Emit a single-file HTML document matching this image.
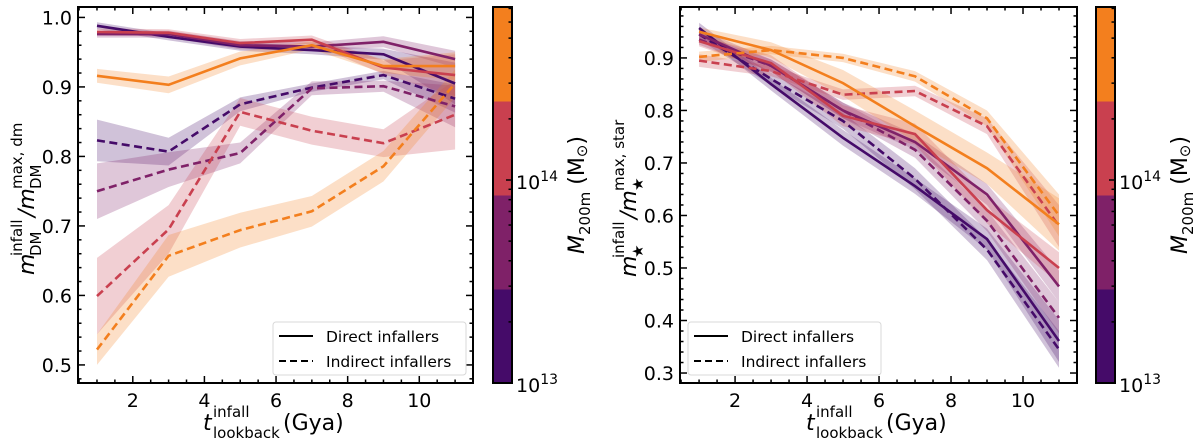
<!DOCTYPE html>
<html><head><meta charset="utf-8"><style>
html,body{margin:0;padding:0;background:#fff;}
svg{display:block;font-family:"DejaVu Sans","Liberation Sans",sans-serif;}
</style></head><body>
<svg id="fig" width="1200" height="448" viewBox="0 0 1200 448" xmlns="http://www.w3.org/2000/svg"></svg>
<script>
const xVals = [1,3,5,7,9,11];
const colors = ['#450b69','#7f2168','#c9404f','#f37f1e'];
const massNames = ['m1','m2','m3','m4'];
// Left panel: DM
const dmDirect = [
 [0.988,0.972,0.958,0.953,0.947,0.905],
 [0.976,0.976,0.960,0.958,0.965,0.940],
 [0.979,0.978,0.963,0.968,0.928,0.917],
 [0.916,0.903,0.941,0.960,0.930,0.930]];
const dmDirectErr = [
 [0.005,0.005,0.006,0.006,0.008,0.03],
 [0.005,0.005,0.006,0.006,0.008,0.012],
 [0.005,0.005,0.006,0.006,0.01,0.03],
 [0.01,0.012,0.01,0.006,0.01,0.02]];
const dmIndirect = [
 [0.823,0.807,0.875,0.899,0.917,0.883],
 [0.750,0.781,0.805,0.898,0.901,0.872],
 [0.599,0.695,0.864,0.837,0.819,0.860],
 [0.522,0.657,0.694,0.721,0.786,0.905]];
const dmIndirectErr = [
 [0.03,0.02,0.01,0.006,0.006,0.02],
 [0.04,0.025,0.015,0.01,0.008,0.03],
 [0.055,0.035,0.02,0.02,0.02,0.05],
 [0.022,0.03,0.025,0.022,0.022,0.02]];
// Right panel: stars
const stDirect = [
 [0.957,0.850,0.748,0.656,0.555,0.361],
 [0.945,0.885,0.800,0.740,0.640,0.465],
 [0.932,0.890,0.790,0.755,0.610,0.500],
 [0.950,0.915,0.852,0.770,0.690,0.583]];
const stDirectErr = [
 [0.01,0.012,0.015,0.015,0.02,0.04],
 [0.01,0.012,0.015,0.015,0.02,0.03],
 [0.01,0.015,0.02,0.02,0.025,0.03],
 [0.008,0.015,0.025,0.03,0.03,0.05]];
const stIndirect = [
 [0.945,0.860,0.780,0.670,0.535,0.345],
 [0.935,0.885,0.800,0.725,0.590,0.405],
 [0.895,0.875,0.830,0.837,0.770,0.580],
 [0.902,0.915,0.900,0.865,0.785,0.600]];
const stIndirectErr = [
 [0.01,0.012,0.015,0.02,0.02,0.035],
 [0.01,0.012,0.015,0.015,0.02,0.03],
 [0.012,0.01,0.01,0.01,0.015,0.04],
 [0.01,0.008,0.008,0.01,0.015,0.04]];
const xTicks = [2,4,6,8,10];
const dmYTicks = [0.5,0.6,0.7,0.8,0.9,1.0];
const stYTicks = [0.3,0.4,0.5,0.6,0.7,0.8,0.9];

const NS='http://www.w3.org/2000/svg';
const svg=document.getElementById('fig');
function el(tag,attrs,parent,text){const e=document.createElementNS(NS,tag);for(const k in attrs)e.setAttribute(k,attrs[k]);if(text!==undefined)e.textContent=text;(parent||svg).appendChild(e);return e;}

function panel(p){
  const g=el('g',{});
  
  
  const sx=v=>p.x0+(v-p.xmin)/(p.xmax-p.xmin)*(p.x1-p.x0);
  const sy=v=>p.y1-(v-p.ymin)/(p.ymax-p.ymin)*(p.y1-p.y0);
  const clipId='clip'+p.name;
  const cp=el('clipPath',{id:clipId},g);el('rect',{x:p.x0,y:p.y0,width:p.x1-p.x0,height:p.y1-p.y0},cp);
  const plot=el('g',{'clip-path':'url(#'+clipId+')'},g);
  function band(vals,err,col,nm){
    let d='';xVals.forEach((x,i)=>{d+=(i?'L':'M')+sx(x).toFixed(1)+','+sy(vals[i]+err[i]).toFixed(1);});
    for(let i=xVals.length-1;i>=0;i--)d+='L'+sx(xVals[i]).toFixed(1)+','+sy(vals[i]-err[i]).toFixed(1);
    const b=el('path',{d:d+'Z',fill:col,'fill-opacity':0.25,stroke:'none'},plot);
    
    
  }
  function line(vals,col,dash,nm){
    const pts=xVals.map((x,i)=>sx(x).toFixed(1)+','+sy(vals[i]).toFixed(1)).join(' ');
    const l=el('polyline',{points:pts,fill:'none',stroke:col,'stroke-width':2.6,'stroke-dasharray':dash?'8,4.5':'none'},plot);
    
    
  }
  for(let k=0;k<4;k++){band(p.d[k],p.de[k],colors[k],'direct-'+massNames[k]);band(p.ind[k],p.inde[k],colors[k],'indirect-'+massNames[k]);}
  for(let k=0;k<4;k++){line(p.d[k],colors[k],false,'direct-'+massNames[k]);line(p.ind[k],colors[k],true,'indirect-'+massNames[k]);}
  el('rect',{x:p.x0,y:p.y0,width:p.x1-p.x0,height:p.y1-p.y0,fill:'none',stroke:'#000','stroke-width':2},g);
  for(let v=Math.ceil(p.xmin*2)/2;v<=p.xmax;v+=0.5){
    const major=xTicks.includes(v);const L=major?7:3.5;const X=sx(v);
    el('line',{x1:X,x2:X,y1:p.y1,y2:p.y1-L,stroke:'#000','stroke-width':1.5},g);
    el('line',{x1:X,x2:X,y1:p.y0,y2:p.y0+L,stroke:'#000','stroke-width':1.5},g);
  }
  xTicks.forEach(v=>{const t=el('text',{x:sx(v),y:p.y1+24,'text-anchor':'middle','font-size':19},g,String(v));});
  for(let i=Math.ceil(p.ymin*50);i<=Math.floor(p.ymax*50);i++){
    const v=i/50;const major=Math.abs(v*10-Math.round(v*10))<1e-6;const L=major?7:3.5;const Y=sy(v);
    el('line',{x1:p.x0,x2:p.x0+L,y1:Y,y2:Y,stroke:'#000','stroke-width':1.5},g);
    el('line',{x1:p.x1,x2:p.x1-L,y1:Y,y2:Y,stroke:'#000','stroke-width':1.5},g);
  }
  p.yt.forEach(v=>{const t=el('text',{x:p.x0-6,y:sy(v)+7,'text-anchor':'end','font-size':19},g,v.toFixed(1));});
  // x label
  const xg=el('g',{transform:'translate('+p.xlx+',0)'},g);
  
  el('text',{x:0,y:430,'font-size':22,'font-style':'italic'},xg,'t');
  el('text',{x:10,y:417,'font-size':15},xg,'infall');
  el('text',{x:10,y:438,'font-size':15},xg,'lookback');
  el('text',{x:80,y:430,'font-size':22},xg,'(Gya)');
  // y label
  const yg=el('g',{transform:'translate('+p.ylx+','+((p.y0+p.y1)/2)+') rotate(-90)'},g);
  
  const s=p.ystart;
  el('text',{x:s,y:0,'font-size':22,'font-style':'italic'},yg,'m');
  el('text',{x:s+19,y:-12,'font-size':15},yg,'infall');
  el('text',{x:s+19,y:7,'font-size':15},yg,p.sub);
  el('text',{x:s+58,y:0,'font-size':22,'font-style':'italic'},yg,'/m');
  el('text',{x:s+86,y:-12,'font-size':15},yg,p.sup);
  el('text',{x:s+86,y:7,'font-size':15},yg,p.sub);
  // legend
  const lg=el('g',{},g);
  el('rect',{x:p.lx,y:322,width:193,height:53,rx:3,fill:'#fff','fill-opacity':0.85,stroke:'#d8d8d8'},lg);
  el('line',{x1:p.lx+6,x2:p.lx+40,y1:336,y2:336,stroke:'#000','stroke-width':2},lg);
  el('line',{x1:p.lx+6,x2:p.lx+40,y1:361,y2:361,stroke:'#000','stroke-width':2,'stroke-dasharray':'7,4'},lg);
  el('text',{x:p.lx+53,y:342,'font-size':15.5},lg,'Direct infallers');
  el('text',{x:p.lx+53,y:367,'font-size':15.5},lg,'Indirect infallers');
}
function colorbar(cx){
  const g=el('g',{});
  const top=7,bot=383,w=19,h=(bot-top)/4;
  for(let k=0;k<4;k++)el('rect',{x:cx,y:bot-(k+1)*h,width:w,height:h+0.5,fill:colors[k]},g);
  el('rect',{x:cx,y:top,width:w,height:bot-top,fill:'none',stroke:'#000','stroke-width':2},g);
  const dec=203;
  const yOf=m=>bot-(Math.log10(m)-13)*dec;
  for(let e=13;e<=14;e++)for(let m=1;m<=9;m++){const Y=yOf(m*Math.pow(10,e));if(Y<top||Y>bot)continue;const L=m===1?6:3.5;
    el('line',{x1:cx+w,x2:cx+w-L,y1:Y,y2:Y,stroke:'#000','stroke-width':1.5},g);}
  [[13,bot],[14,yOf(1e14)]].forEach(([e,Y])=>{const t=el('text',{x:cx+w+4,y:Y+9,'font-size':19},g,'10');el('tspan',{dy:-8,'font-size':14},t,String(e));});
  const t=el('text',{transform:'translate('+(cx+w+72)+',195) rotate(-90)','text-anchor':'middle','font-size':22},g);
  
  el('tspan',{'font-style':'italic'},t,'M');el('tspan',{dy:6,'font-size':15},t,'200m');el('tspan',{dy:-6},t,' (M');el('tspan',{'font-size':15,dy:3},t,'⊙');el('tspan',{dy:-3},t,')');
}
panel({name:'dm-panel',x0:78,x1:473,y0:7,y1:383,xmin:0.47,xmax:11.5,ymin:0.474,ymax:1.015,d:dmDirect,de:dmDirectErr,ind:dmIndirect,inde:dmIndirectErr,yt:dmYTicks,ylx:34,ystart:-80,sub:'DM',sup:'max, dm',lx:273,xlx:203});
panel({name:'star-panel',x0:680,x1:1077,y0:7,y1:383,xmin:0.47,xmax:11.5,ymin:0.281,ymax:0.997,d:stDirect,de:stDirectErr,ind:stIndirect,inde:stIndirectErr,yt:stYTicks,ylx:636,ystart:-82,sub:'★',sup:'max, star',lx:688,xlx:806});
colorbar(493);
colorbar(1096);
</script>
</body></html>
